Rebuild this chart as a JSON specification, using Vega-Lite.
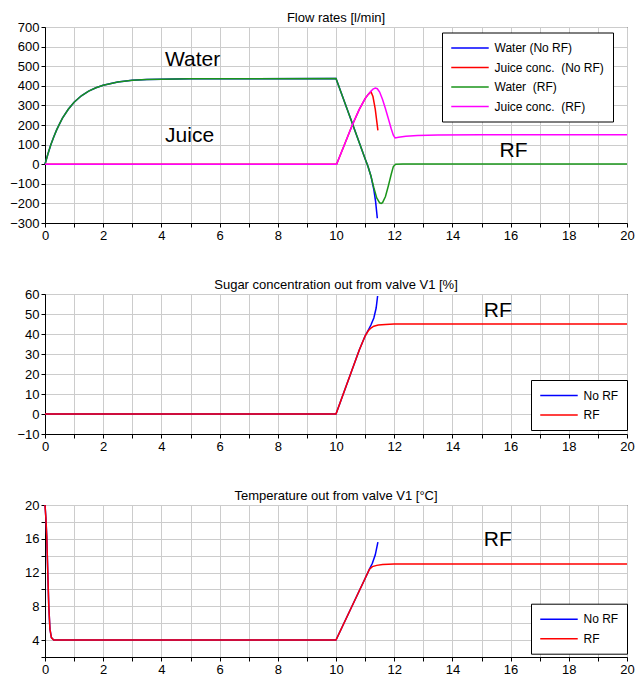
{
  "$schema": "https://vega.github.io/schema/vega-lite/v6.json",
  "padding": {"left": 9, "top": 11, "right": 5, "bottom": 2},
  "background": "white",
  "spacing": 71,
  "bounds": "flush",
  "config": {
    "font": "Liberation Sans",
    "view": {"stroke": "black", "strokeWidth": 1},
    "axis": {"labelFontSize": 13, "labelColor": "black", "domainColor": "black", "tickColor": "black", "gridColor": "#cccccc", "tickSize": 4, "labelPadding": 2, "title": null, "labelFlush": false, "labelOverlap": false, "tickCount": 100, "format": "d"},
    "title": {"fontSize": 13, "fontWeight": "normal", "offset": -4, "color": "black", "frame": "group"},
    "legend": {"orient": "none", "title": null, "symbolType": "M-1,0H5", "symbolSize": 156, "symbolStrokeWidth": 1.5, "symbolFillColor": "transparent", "labelFontSize": 12, "labelColor": "black", "strokeColor": "black", "fillColor": "white", "padding": 8.5, "rowPadding": 6.5, "labelOffset": 30}
  },
  "resolve": {"scale": {"color": "independent"}, "legend": {"color": "independent"}},
  "datasets": {
    "flow": [
      {"t": 0, "v": 0, "s": "Water (No RF)"}, {"t": 0.1, "v": 52, "s": "Water (No RF)"}, {"t": 0.2, "v": 99, "s": "Water (No RF)"}, {"t": 0.3, "v": 139, "s": "Water (No RF)"}, {"t": 0.4, "v": 175, "s": "Water (No RF)"}, {"t": 0.5, "v": 206, "s": "Water (No RF)"}, {"t": 0.6, "v": 235, "s": "Water (No RF)"}, {"t": 0.8, "v": 280, "s": "Water (No RF)"}, {"t": 1.0, "v": 316, "s": "Water (No RF)"}, {"t": 1.25, "v": 349, "s": "Water (No RF)"}, {"t": 1.5, "v": 373, "s": "Water (No RF)"}, {"t": 1.75, "v": 390, "s": "Water (No RF)"}, {"t": 2.0, "v": 403, "s": "Water (No RF)"}, {"t": 2.5, "v": 419, "s": "Water (No RF)"}, {"t": 3.0, "v": 428, "s": "Water (No RF)"}, {"t": 3.5, "v": 432, "s": "Water (No RF)"}, {"t": 4.0, "v": 434, "s": "Water (No RF)"}, {"t": 5.0, "v": 436, "s": "Water (No RF)"}, {"t": 10.0, "v": 437, "s": "Water (No RF)"}, {"t": 10.5, "v": 233, "s": "Water (No RF)"}, {"t": 11.0, "v": 28, "s": "Water (No RF)"}, {"t": 11.1, "v": -12, "s": "Water (No RF)"}, {"t": 11.2, "v": -60, "s": "Water (No RF)"}, {"t": 11.3, "v": -130, "s": "Water (No RF)"}, {"t": 11.36, "v": -190, "s": "Water (No RF)"}, {"t": 11.42, "v": -276, "s": "Water (No RF)"},
      {"t": 0, "v": 0, "s": "Juice conc.\u00a0 (No RF)"}, {"t": 10.02, "v": 0, "s": "Juice conc.\u00a0 (No RF)"}, {"t": 10.3, "v": 103, "s": "Juice conc.\u00a0 (No RF)"}, {"t": 10.56, "v": 200, "s": "Juice conc.\u00a0 (No RF)"}, {"t": 10.8, "v": 280, "s": "Juice conc.\u00a0 (No RF)"}, {"t": 11.0, "v": 335, "s": "Juice conc.\u00a0 (No RF)"}, {"t": 11.1, "v": 355, "s": "Juice conc.\u00a0 (No RF)"}, {"t": 11.2, "v": 370, "s": "Juice conc.\u00a0 (No RF)"}, {"t": 11.27, "v": 345, "s": "Juice conc.\u00a0 (No RF)"}, {"t": 11.35, "v": 280, "s": "Juice conc.\u00a0 (No RF)"}, {"t": 11.44, "v": 173, "s": "Juice conc.\u00a0 (No RF)"},
      {"t": 0, "v": 0, "s": "Water\u00a0 (RF)"}, {"t": 0.1, "v": 52, "s": "Water\u00a0 (RF)"}, {"t": 0.2, "v": 99, "s": "Water\u00a0 (RF)"}, {"t": 0.3, "v": 139, "s": "Water\u00a0 (RF)"}, {"t": 0.4, "v": 175, "s": "Water\u00a0 (RF)"}, {"t": 0.5, "v": 206, "s": "Water\u00a0 (RF)"}, {"t": 0.6, "v": 235, "s": "Water\u00a0 (RF)"}, {"t": 0.8, "v": 280, "s": "Water\u00a0 (RF)"}, {"t": 1.0, "v": 316, "s": "Water\u00a0 (RF)"}, {"t": 1.25, "v": 349, "s": "Water\u00a0 (RF)"}, {"t": 1.5, "v": 373, "s": "Water\u00a0 (RF)"}, {"t": 1.75, "v": 390, "s": "Water\u00a0 (RF)"}, {"t": 2.0, "v": 403, "s": "Water\u00a0 (RF)"}, {"t": 2.5, "v": 419, "s": "Water\u00a0 (RF)"}, {"t": 3.0, "v": 428, "s": "Water\u00a0 (RF)"}, {"t": 3.5, "v": 432, "s": "Water\u00a0 (RF)"}, {"t": 4.0, "v": 434, "s": "Water\u00a0 (RF)"}, {"t": 5.0, "v": 436, "s": "Water\u00a0 (RF)"}, {"t": 10.0, "v": 437, "s": "Water\u00a0 (RF)"}, {"t": 10.5, "v": 233, "s": "Water\u00a0 (RF)"}, {"t": 11.0, "v": 28, "s": "Water\u00a0 (RF)"}, {"t": 11.1, "v": -12, "s": "Water\u00a0 (RF)"}, {"t": 11.2, "v": -60, "s": "Water\u00a0 (RF)"}, {"t": 11.3, "v": -120, "s": "Water\u00a0 (RF)"}, {"t": 11.4, "v": -172, "s": "Water\u00a0 (RF)"}, {"t": 11.5, "v": -197, "s": "Water\u00a0 (RF)"}, {"t": 11.55, "v": -200, "s": "Water\u00a0 (RF)"}, {"t": 11.6, "v": -196, "s": "Water\u00a0 (RF)"}, {"t": 11.7, "v": -165, "s": "Water\u00a0 (RF)"}, {"t": 11.8, "v": -110, "s": "Water\u00a0 (RF)"}, {"t": 11.9, "v": -50, "s": "Water\u00a0 (RF)"}, {"t": 11.97, "v": -12, "s": "Water\u00a0 (RF)"}, {"t": 12.05, "v": 0, "s": "Water\u00a0 (RF)"}, {"t": 12.3, "v": 1, "s": "Water\u00a0 (RF)"}, {"t": 20, "v": 1, "s": "Water\u00a0 (RF)"},
      {"t": 0, "v": 0, "s": "Juice conc.\u00a0 (RF)"}, {"t": 10.02, "v": 0, "s": "Juice conc.\u00a0 (RF)"}, {"t": 10.3, "v": 103, "s": "Juice conc.\u00a0 (RF)"}, {"t": 10.56, "v": 200, "s": "Juice conc.\u00a0 (RF)"}, {"t": 10.8, "v": 280, "s": "Juice conc.\u00a0 (RF)"}, {"t": 11.0, "v": 335, "s": "Juice conc.\u00a0 (RF)"}, {"t": 11.1, "v": 355, "s": "Juice conc.\u00a0 (RF)"}, {"t": 11.2, "v": 372, "s": "Juice conc.\u00a0 (RF)"}, {"t": 11.27, "v": 383, "s": "Juice conc.\u00a0 (RF)"}, {"t": 11.35, "v": 388, "s": "Juice conc.\u00a0 (RF)"}, {"t": 11.42, "v": 385, "s": "Juice conc.\u00a0 (RF)"}, {"t": 11.5, "v": 368, "s": "Juice conc.\u00a0 (RF)"}, {"t": 11.6, "v": 330, "s": "Juice conc.\u00a0 (RF)"}, {"t": 11.7, "v": 283, "s": "Juice conc.\u00a0 (RF)"}, {"t": 11.8, "v": 232, "s": "Juice conc.\u00a0 (RF)"}, {"t": 11.9, "v": 180, "s": "Juice conc.\u00a0 (RF)"}, {"t": 11.97, "v": 148, "s": "Juice conc.\u00a0 (RF)"}, {"t": 12.03, "v": 134, "s": "Juice conc.\u00a0 (RF)"}, {"t": 12.15, "v": 138, "s": "Juice conc.\u00a0 (RF)"}, {"t": 12.4, "v": 143, "s": "Juice conc.\u00a0 (RF)"}, {"t": 12.8, "v": 147, "s": "Juice conc.\u00a0 (RF)"}, {"t": 13.5, "v": 149, "s": "Juice conc.\u00a0 (RF)"}, {"t": 15, "v": 150, "s": "Juice conc.\u00a0 (RF)"}, {"t": 20, "v": 150, "s": "Juice conc.\u00a0 (RF)"}
    ],
    "sugar": [
      {"t": 0, "v": 0, "s": "No RF"}, {"t": 10, "v": 0, "s": "No RF"}, {"t": 10.5, "v": 20, "s": "No RF"}, {"t": 10.8, "v": 32, "s": "No RF"}, {"t": 11.0, "v": 39, "s": "No RF"}, {"t": 11.11, "v": 42, "s": "No RF"}, {"t": 11.2, "v": 44.5, "s": "No RF"}, {"t": 11.3, "v": 48, "s": "No RF"}, {"t": 11.38, "v": 53, "s": "No RF"}, {"t": 11.43, "v": 59, "s": "No RF"},
      {"t": 0, "v": 0, "s": "RF"}, {"t": 10, "v": 0, "s": "RF"}, {"t": 10.5, "v": 20, "s": "RF"}, {"t": 10.8, "v": 32, "s": "RF"}, {"t": 11.0, "v": 39, "s": "RF"}, {"t": 11.11, "v": 41.6, "s": "RF"}, {"t": 11.2, "v": 43, "s": "RF"}, {"t": 11.3, "v": 43.9, "s": "RF"}, {"t": 11.45, "v": 44.5, "s": "RF"}, {"t": 11.7, "v": 44.8, "s": "RF"}, {"t": 12, "v": 45, "s": "RF"}, {"t": 20, "v": 45, "s": "RF"}
    ],
    "temp": [
      {"t": 0, "v": 20, "s": "No RF"}, {"t": 0.03, "v": 18.5, "s": "No RF"}, {"t": 0.06, "v": 16.3, "s": "No RF"}, {"t": 0.1, "v": 11.5, "s": "No RF"}, {"t": 0.13, "v": 8, "s": "No RF"}, {"t": 0.17, "v": 5.3, "s": "No RF"}, {"t": 0.22, "v": 4.3, "s": "No RF"}, {"t": 0.3, "v": 4.02, "s": "No RF"}, {"t": 0.4, "v": 4, "s": "No RF"}, {"t": 10, "v": 4, "s": "No RF"}, {"t": 10.5, "v": 7.65, "s": "No RF"}, {"t": 11.0, "v": 11.3, "s": "No RF"}, {"t": 11.15, "v": 12.4, "s": "No RF"}, {"t": 11.25, "v": 13.1, "s": "No RF"}, {"t": 11.35, "v": 14.1, "s": "No RF"}, {"t": 11.44, "v": 15.6, "s": "No RF"},
      {"t": 0, "v": 20, "s": "RF"}, {"t": 0.03, "v": 18.5, "s": "RF"}, {"t": 0.06, "v": 16.3, "s": "RF"}, {"t": 0.1, "v": 11.5, "s": "RF"}, {"t": 0.13, "v": 8, "s": "RF"}, {"t": 0.17, "v": 5.3, "s": "RF"}, {"t": 0.22, "v": 4.3, "s": "RF"}, {"t": 0.3, "v": 4.02, "s": "RF"}, {"t": 0.4, "v": 4, "s": "RF"}, {"t": 10, "v": 4, "s": "RF"}, {"t": 10.5, "v": 7.65, "s": "RF"}, {"t": 11.0, "v": 11.3, "s": "RF"}, {"t": 11.15, "v": 12.4, "s": "RF"}, {"t": 11.25, "v": 12.7, "s": "RF"}, {"t": 11.4, "v": 12.85, "s": "RF"}, {"t": 11.6, "v": 12.95, "s": "RF"}, {"t": 12, "v": 13, "s": "RF"}, {"t": 20, "v": 13, "s": "RF"}
    ],
    "notes": [
      {"p": 1, "t": 5.07, "v": 533, "label": "Water"},
      {"p": 1, "t": 4.97, "v": 146, "label": "Juice"},
      {"p": 1, "t": 16.1, "v": 66, "label": "RF"},
      {"p": 2, "t": 15.56, "v": 51.4, "label": "RF"},
      {"p": 3, "t": 15.56, "v": 15.8, "label": "RF"}
    ]
  },
  "vconcat": [
    {
      "width": 582, "height": 196,
      "title": "Flow rates [l/min]",
      "layer": [
        {
          "data": {"name": "flow"},
          "mark": {"type": "line", "strokeWidth": 1.5},
          "encoding": {
            "x": {"field": "t", "type": "quantitative", "scale": {"domain": [0, 20], "nice": false}, "axis": {"values": [0,1,2,3,4,5,6,7,8,9,10,11,12,13,14,15,16,17,18,19,20], "labelExpr": "datum.value % 2 == 0 ? datum.label : ''", "labelOverlap": false, "tickCount": 100, "format": "d"}},
            "y": {"field": "v", "type": "quantitative", "scale": {"domain": [-300, 700], "nice": false}, "axis": {"values": [-300,-200,-100,0,100,200,300,400,500,600,700], "labelOverlap": false, "tickCount": 100, "format": "d"}},
            "color": {"field": "s", "type": "nominal", "scale": {"domain": ["Water (No RF)", "Juice conc.\u00a0 (No RF)", "Water\u00a0 (RF)", "Juice conc.\u00a0 (RF)"], "range": ["#0000ff", "#ff0000", "#1a951a", "#ff00ff"]}, "legend": {"legendX": 397, "legendY": 5.5}}
          }
        },
        {
          "data": {"name": "notes"},
          "transform": [{"filter": "datum.p == 1"}],
          "mark": {"type": "text", "fontSize": 21, "color": "black"},
          "encoding": {"x": {"field": "t", "type": "quantitative"}, "y": {"field": "v", "type": "quantitative"}, "text": {"field": "label"}}
        }
      ]
    },
    {
      "width": 582, "height": 140,
      "title": "Sugar concentration out from valve V1 [%]",
      "layer": [
        {
          "data": {"name": "sugar"},
          "mark": {"type": "line", "strokeWidth": 1.5},
          "encoding": {
            "x": {"field": "t", "type": "quantitative", "scale": {"domain": [0, 20], "nice": false}, "axis": {"values": [0,1,2,3,4,5,6,7,8,9,10,11,12,13,14,15,16,17,18,19,20], "labelExpr": "datum.value % 2 == 0 ? datum.label : ''", "labelOverlap": false, "tickCount": 100, "format": "d"}},
            "y": {"field": "v", "type": "quantitative", "scale": {"domain": [-10, 60], "nice": false}, "axis": {"values": [-10,0,10,20,30,40,50,60], "labelOverlap": false, "tickCount": 100, "format": "d"}},
            "color": {"field": "s", "type": "nominal", "scale": {"domain": ["No RF", "RF"], "range": ["#0000ff", "#ff0000"]}, "legend": {"legendX": 486, "legendY": 86}}
          }
        },
        {
          "data": {"name": "notes"},
          "transform": [{"filter": "datum.p == 2"}],
          "mark": {"type": "text", "fontSize": 21, "color": "black"},
          "encoding": {"x": {"field": "t", "type": "quantitative"}, "y": {"field": "v", "type": "quantitative"}, "text": {"field": "label"}}
        }
      ]
    },
    {
      "width": 582, "height": 152,
      "title": "Temperature out from valve V1 [°C]",
      "layer": [
        {
          "data": {"name": "temp"},
          "mark": {"type": "line", "strokeWidth": 1.5},
          "encoding": {
            "x": {"field": "t", "type": "quantitative", "scale": {"domain": [0, 20], "nice": false}, "axis": {"values": [0,1,2,3,4,5,6,7,8,9,10,11,12,13,14,15,16,17,18,19,20], "labelExpr": "datum.value % 2 == 0 ? datum.label : ''", "labelOverlap": false, "tickCount": 100, "format": "d"}},
            "y": {"field": "v", "type": "quantitative", "scale": {"domain": [2, 20], "nice": false}, "axis": {"values": [2,4,6,8,10,12,14,16,18,20], "labelExpr": "datum.value % 4 == 0 ? datum.label : ''", "labelOverlap": false, "tickCount": 100, "format": "d"}},
            "color": {"field": "s", "type": "nominal", "scale": {"domain": ["No RF", "RF"], "range": ["#0000ff", "#ff0000"]}, "legend": {"legendX": 486, "legendY": 98.7}}
          }
        },
        {
          "data": {"name": "notes"},
          "transform": [{"filter": "datum.p == 3"}],
          "mark": {"type": "text", "fontSize": 21, "color": "black"},
          "encoding": {"x": {"field": "t", "type": "quantitative"}, "y": {"field": "v", "type": "quantitative"}, "text": {"field": "label"}}
        }
      ]
    }
  ]
}
